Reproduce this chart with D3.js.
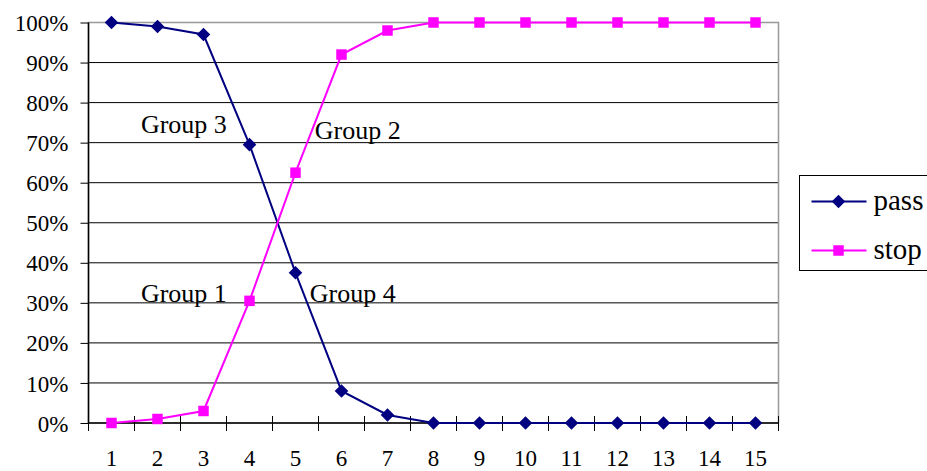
<!DOCTYPE html>
<html>
<head>
  <meta charset="utf-8">
  <title>pass / stop</title>
  <style>
    body { margin: 0; background: #fff; }
    .axis path { display: none; }
    .axis line { stroke: #000; }
  </style>
</head>
<body>
  <script src="https://cdn.jsdelivr.net/npm/d3@7"></script>
  <script>
    var categories = [1, 2, 3, 4, 5, 6, 7, 8, 9, 10, 11, 12, 13, 14, 15];
    var passValues = [100, 99, 97, 69.5, 37.5, 8, 2, 0, 0, 0, 0, 0, 0, 0, 0];
    var stopValues = [0, 1, 3, 30.5, 62.5, 92, 98, 100, 100, 100, 100, 100, 100, 100, 100];
    var yTicks = [0, 10, 20, 30, 40, 50, 60, 70, 80, 90, 100];
    var notes = [
      { text: "Group 3", cat: 1.64, val: 72.5 },
      { text: "Group 2", cat: 5.42, val: 70.8 },
      { text: "Group 1", cat: 1.64, val: 30.2 },
      { text: "Group 4", cat: 5.31, val: 30.2 }
    ];
    var series = [
      { name: "pass", values: passValues, color: "#000080", symbol: d3.symbolSquare, rot: 45, size: 92 },
      { name: "stop", values: stopValues, color: "#ff00ff", symbol: d3.symbolSquare, rot: 0, size: 110 }
    ];

    var margin = { top: 22.5, left: 88.5 },
      width = 690,
      height = 400.5;
    var serif = "Liberation Serif";

    var svg = d3.select("body").append("svg")
      .attr("width", 927)
      .attr("height", 471);
    var g = svg.append("g")
      .attr("transform", "translate(" + margin.left + "," + margin.top + ")");

    var x = d3.scaleBand().domain(categories).range([0, width]);
    var y = d3.scaleLinear().domain([0, 100]).range([height, 0]);
    var cx = function (c) { return x(1) + x.bandwidth() / 2 + (c - 1) * x.step(); };

    // gridlines
    g.append("g")
      .selectAll("line")
      .data(yTicks.filter(d => d > 0 && d < 100))
      .join("line")
      .attr("x1", 0).attr("x2", width)
      .attr("y1", d => y(d)).attr("y2", d => y(d))
      .attr("stroke", "#000").attr("stroke-width", 1);

    // plot border (grey)
    g.append("rect")
      .attr("width", width).attr("height", height)
      .attr("fill", "none").attr("stroke", "#999").attr("stroke-width", 1.5);

    // y axis
    var yAxis = g.append("g").attr("class", "axis")
      .call(d3.axisLeft(y).tickValues(yTicks).tickSize(8).tickPadding(12).tickFormat(d => d + "%"));
    yAxis.selectAll("text")
      .attr("font-family", serif).attr("font-size", 23)
      .attr("fill", "#000").attr("dy", "0.35em");
    yAxis.append("line").attr("y1", 0).attr("y2", height).attr("stroke", "#000").attr("stroke-width", 1.5);

    // x axis: ticks at category boundaries
    var xg = g.append("g").attr("class", "axis")
      .attr("transform", "translate(0," + height + ")");
    xg.append("line").attr("x1", 0).attr("x2", width).attr("stroke", "#000").attr("stroke-width", 1.5);
    xg.selectAll(".tk")
      .data(categories.concat([null]))
      .join("line")
      .attr("x1", (d, i) => i * x.step()).attr("x2", (d, i) => i * x.step())
      .attr("y1", -7).attr("y2", 8)
      .attr("stroke", "#000");
    xg.selectAll("text")
      .data(categories)
      .join("text")
      .attr("x", d => cx(d))
      .attr("y", 43)
      .attr("text-anchor", "middle")
      .attr("font-family", serif)
      .attr("font-size", 23)
      .text(d => d);

    var line = d3.line()
      .x((d, i) => cx(categories[i]))
      .y(d => y(d));

    series.forEach(function (s) {
      g.append("path")
        .datum(s.values)
        .attr("fill", "none")
        .attr("stroke", s.color)
        .attr("stroke-width", 2)
        .attr("d", line);
      g.selectAll(".m-" + s.name)
        .data(s.values)
        .join("path")
        .attr("transform", (d, i) => "translate(" + cx(categories[i]) + "," + y(d) + ") rotate(" + s.rot + ")")
        .attr("d", d3.symbol().type(s.symbol).size(s.size))
        .attr("fill", s.color);
    });

    // annotations
    g.selectAll(".note")
      .data(notes)
      .join("text")
      .attr("x", d => cx(d.cat))
      .attr("y", d => y(d.val))
      .attr("font-family", serif)
      .attr("font-size", 26)
      .text(d => d.text);

    // legend
    var legend = svg.append("g").attr("transform", "translate(799.5,175.5)");
    legend.append("rect")
      .attr("width", 140).attr("height", 95)
      .attr("fill", "#fff").attr("stroke", "#000").attr("stroke-width", 1);
    series.forEach(function (s, i) {
      var ly = 26 + i * 49;
      legend.append("line")
        .attr("x1", 12).attr("x2", 67).attr("y1", ly).attr("y2", ly)
        .attr("stroke", s.color).attr("stroke-width", 2);
      legend.append("path")
        .attr("transform", "translate(39," + ly + ") rotate(" + s.rot + ")")
        .attr("d", d3.symbol().type(s.symbol).size(s.size))
        .attr("fill", s.color);
      legend.append("text")
        .attr("x", 74).attr("y", ly + 8)
        .attr("font-family", serif)
        .attr("font-size", 29)
        .text(s.name);
    });
  </script>
</body>
</html>
